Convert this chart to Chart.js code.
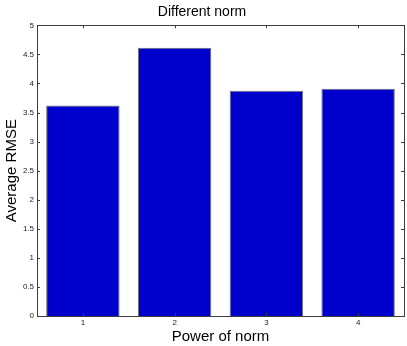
<!DOCTYPE html>
<html>
<head>
<meta charset="utf-8">
<script src="https://cdn.jsdelivr.net/npm/chart.js@4.4.0/dist/chart.umd.min.js"></script>
<style>
  html, body { margin: 0; padding: 0; background: #fff; }
  #wrap { width: 407px; height: 346px; }
</style>
</head>
<body>
<div id="wrap"><canvas id="normChart" width="407" height="346"></canvas></div>
<script>
// data
const powers = ['1', '2', '3', '4'];
const avgRmse = [3.62, 4.615, 3.875, 3.91];
const yTicks = [0, 0.5, 1, 1.5, 2, 2.5, 3, 3.5, 4, 4.5, 5];

const axisColor = '#3c3c3c';

// draws the closed box and the inward ticks on all four sides
const boxPlugin = {
    id: 'boxPlugin',
    afterDatasetsDraw(chart) {
        const ctx = chart.ctx;
        const a = chart.chartArea;
        const xs = chart.scales.x;
        const ys = chart.scales.y;
        const len = 3;
        ctx.save();
        ctx.strokeStyle = axisColor;
        ctx.lineWidth = 1;
        ctx.beginPath();
        xs.ticks.forEach((t, i) => {
            const px = Math.round(xs.getPixelForTick(i)) + 0.5;
            ctx.moveTo(px, a.bottom); ctx.lineTo(px, a.bottom - len);
            ctx.moveTo(px, a.top); ctx.lineTo(px, a.top + len);
        });
        yTicks.forEach(v => {
            const py = Math.round(ys.getPixelForValue(v)) + 0.5;
            ctx.moveTo(a.left, py); ctx.lineTo(a.left + len, py);
            ctx.moveTo(a.right, py); ctx.lineTo(a.right - len, py);
        });
        ctx.stroke();
        ctx.strokeRect(Math.round(a.left) + 0.5, Math.round(a.top) + 0.5,
            Math.round(a.right - a.left), Math.round(a.bottom - a.top));
        ctx.restore();
    }
};

function createNormChart() {
    const ctx = document.getElementById('normChart').getContext('2d');
    new Chart(ctx, {
        type: 'bar',
        data: {
            labels: powers,
            datasets: [{
                label: 'Average RMSE',
                data: avgRmse,
                backgroundColor: '#0000cc',
                borderColor: '#6e6e6e',
                borderWidth: 1,
                barPercentage: 0.8,
                categoryPercentage: 1.0
            }]
        },
        options: {
            responsive: false,
            animation: false,
            layout: { padding: { top: 0, right: 3, bottom: 0, left: 0 } },
            scales: {
                x: {
                    offset: true,
                    grid: { display: false, drawTicks: false },
                    border: { display: false },
                    ticks: { color: '#222', font: { family: 'Liberation Sans', size: 8 }, padding: 2, maxRotation: 0 },
                    title: {
                        display: true,
                        text: 'Power of norm',
                        color: '#000',
                        font: { family: 'Liberation Sans', size: 15 },
                        padding: { top: 0, bottom: 0 }
                    },
                    afterFit(scale) { scale.height = 30; }
                },
                y: {
                    min: 0,
                    max: 5,
                    afterBuildTicks(scale) { scale.ticks = yTicks.map(v => ({ value: v })); },
                    grid: { display: false, drawTicks: false },
                    border: { display: false },
                    ticks: {
                        color: '#222',
                        font: { family: 'Liberation Sans', size: 8 },
                        padding: 3,
                        callback: function(value) { return String(value); }
                    },
                    title: {
                        display: true,
                        text: 'Average RMSE',
                        color: '#000',
                        font: { family: 'Liberation Sans', size: 15 },
                        padding: { top: 3, bottom: 0 }
                    },
                    afterFit(scale) { scale.width = 37; }
                }
            },
            plugins: {
                legend: { display: false },
                tooltip: { enabled: false },
                title: {
                    display: true,
                    text: 'Different norm',
                    color: '#000',
                    font: { family: 'Liberation Sans', size: 14, weight: 'normal' },
                    padding: { top: 4, bottom: 4.5 }
                }
            }
        },
        plugins: [boxPlugin]
    });
}

window.onload = function() {
    createNormChart();
};
</script>
</body>
</html>
